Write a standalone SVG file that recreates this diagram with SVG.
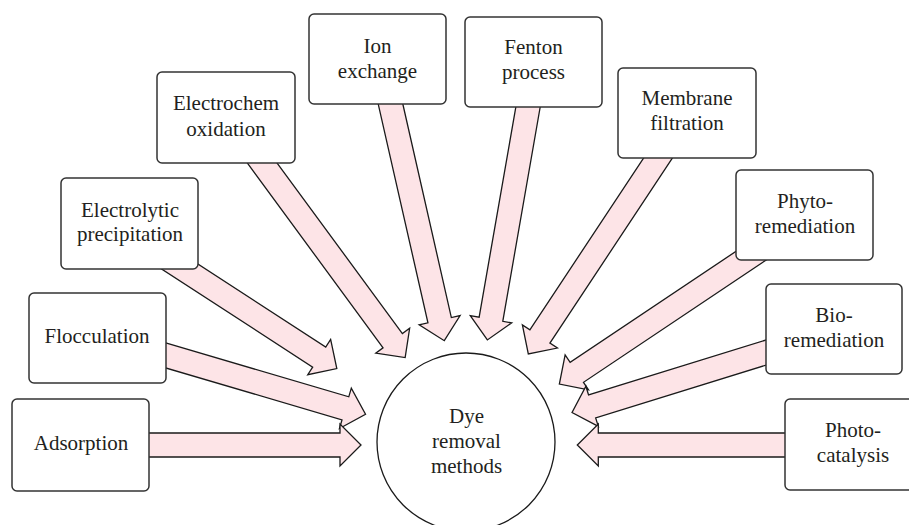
<svg xmlns="http://www.w3.org/2000/svg" width="909" height="525" viewBox="0 0 909 525">
<style>
.arr{fill:#fde4e7;stroke:#1a1a1a;stroke-width:1.3;stroke-linejoin:miter}
.box{fill:#fff;stroke:#333;stroke-width:1.5}
.t{font-family:"Liberation Serif","Times New Roman",serif;font-size:21px;fill:#231f20;text-anchor:middle}
</style>
<rect width="909" height="525" fill="#fff"/>
<g id="connectors">
<path class="arr" transform="translate(387.2,89.4) rotate(77.2)" d="M0,-12 H236.7 V-21 L257.7,0 L236.7,21 V12 H0 Z"/>
<path class="arr" transform="translate(530.6,92.2) rotate(99.9)" d="M0,-12 H230.5 V-21 L251.5,0 L230.5,21 V12 H0 Z"/>
<path class="arr" transform="translate(253.3,150.9) rotate(53.7)" d="M0,-12 H235.5 V-21 L256.5,0 L235.5,21 V12 H0 Z"/>
<path class="arr" transform="translate(666.3,145.5) rotate(123.5)" d="M0,-12 H229 V-21 L250,0 L229,21 V12 H0 Z"/>
<path class="arr" transform="translate(167.4,258.5) rotate(33)" d="M0,-12 H181 V-21 L202,0 L181,21 V12 H0 Z"/>
<path class="arr" transform="translate(762.7,247.9) rotate(146.2)" d="M0,-12 H223.7 V-21 L244.7,0 L223.7,21 V12 H0 Z"/>
<path class="arr" transform="translate(156.4,352.7) rotate(16.4)" d="M0,-12 H197 V-21 L218,0 L197,21 V12 H0 Z"/>
<path class="arr" transform="translate(780.3,348.1) rotate(162.8)" d="M0,-12 H197 V-21 L218,0 L197,21 V12 H0 Z"/>
<path class="arr" transform="translate(140,445)" d="M0,-12 H200 V-21 L221,0 L200,21 V12 H0 Z"/>
<path class="arr" transform="translate(795,445) rotate(180)" d="M0,-12 H196.7 V-21 L217.7,0 L196.7,21 V12 H0 Z"/>
</g>
<g id="adsorption"><rect class="box" x="12" y="399" width="137" height="92" rx="5"/><text class="t" x="81" y="450">Adsorption</text></g>
<g id="flocculation"><rect class="box" x="29" y="293" width="137" height="90" rx="5"/><text class="t" x="97" y="343">Flocculation</text></g>
<g id="electrolytic"><rect class="box" x="61" y="178" width="137" height="91" rx="5"/><text class="t" x="130" y="216.5">Electrolytic</text><text class="t" x="130" y="241">precipitation</text></g>
<g id="electrochem"><rect class="box" x="157" y="72" width="138" height="91" rx="5"/><text class="t" x="226" y="110">Electrochem</text><text class="t" x="226" y="136">oxidation</text></g>
<g id="ion"><rect class="box" x="309" y="14" width="137" height="90" rx="5"/><text class="t" x="377.5" y="52.5">Ion</text><text class="t" x="377.5" y="77.5">exchange</text></g>
<g id="fenton"><rect class="box" x="465" y="17" width="137" height="90" rx="5"/><text class="t" x="533.5" y="54">Fenton</text><text class="t" x="533.5" y="79">process</text></g>
<g id="membrane"><rect class="box" x="618" y="68" width="138" height="90" rx="5"/><text class="t" x="687" y="105">Membrane</text><text class="t" x="687" y="130">filtration</text></g>
<g id="phyto"><rect class="box" x="736" y="170" width="137" height="90" rx="5"/><text class="t" x="805" y="207.5">Phyto-</text><text class="t" x="805" y="232.5">remediation</text></g>
<g id="bio"><rect class="box" x="766" y="284" width="136" height="90" rx="5"/><text class="t" x="834" y="321.5">Bio-</text><text class="t" x="834" y="346.5">remediation</text></g>
<g id="photo"><rect class="box" x="785" y="399" width="140" height="91" rx="5"/><text class="t" x="853" y="437">Photo-</text><text class="t" x="853" y="461.5">catalysis</text></g>
<g id="center"><circle cx="466" cy="442" r="89" fill="#fff" stroke="#1a1a1a" stroke-width="1.3"/><text class="t" x="466.5" y="423">Dye</text><text class="t" x="466.5" y="448">removal</text><text class="t" x="466.5" y="473">methods</text></g>
</svg>
